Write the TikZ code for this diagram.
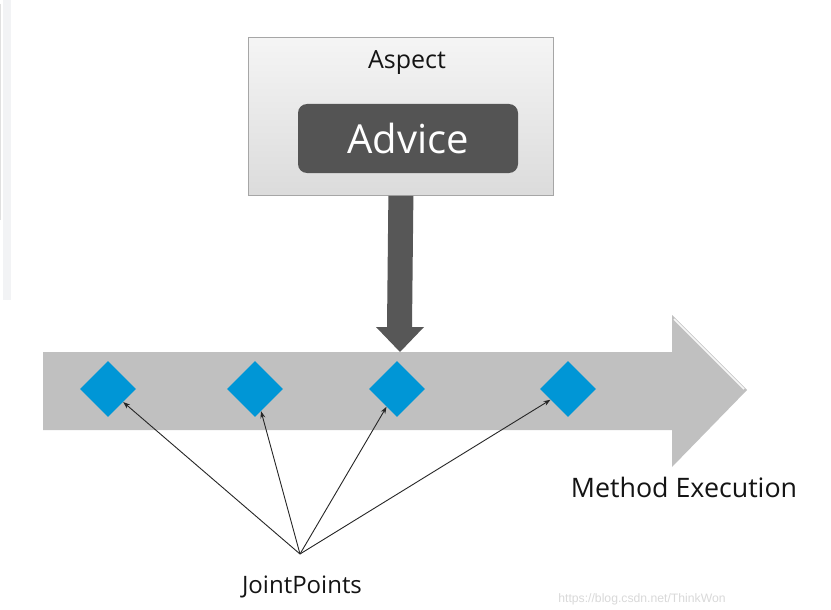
\documentclass[tikz,border=0pt]{standalone}
\usepackage{fontspec}
\setmainfont{Open Sans}
\newfontfamily\wmfont{Liberation Sans}
\usetikzlibrary{shapes.geometric,arrows.meta}
\definecolor{jpblue}{HTML}{0096D6}
\definecolor{barcol}{HTML}{C0C0C0}
\definecolor{darkcol}{HTML}{575757}
\definecolor{advcol}{HTML}{545454}
\definecolor{boxedge}{HTML}{A6A6A6}
\definecolor{stripcol}{HTML}{F2F3F5}
\definecolor{wmcol}{HTML}{D9D9D9}
\begin{document}
\begin{tikzpicture}[x=1pt,y=-1pt,
  jpoint/.style={diamond,fill=jpblue,minimum width=56,minimum height=56,inner sep=0pt,aspect=1},
  pointer/.style={draw=black!85,line width=0.9pt,-{Stealth[length=7pt,width=5pt]}},
  lbl/.style={text=black!92,inner sep=0pt,anchor=base}]
\useasboundingbox (0,0) rectangle (831,610);
\fill[white] (0,0) rectangle (831,610);
% screenshot side strip
\fill[stripcol] (3,0) rectangle (11,300);
\draw[black!12,line width=0.6pt] (0.6,4) -- (0.6,220);
% Aspect box
\node[draw=boxedge,line width=0.8pt,top color=white!96!black,bottom color=white!86!black,
      minimum width=305,minimum height=158,anchor=north west,inner sep=0pt] (aspect) at (248,37) {};
\node[lbl] (asptext) at (407,69) {\fontsize{25}{30}\selectfont Aspect};
\node[fill=advcol,rounded corners=9pt,minimum width=220,minimum height=69,inner sep=0pt,
      text=white,font=\fontsize{40}{46}\selectfont] (advice) at (408,138.5) {Advice};
% down arrow
\fill[darkcol] (aspect.south) ++(-12.5,0) -- ++(25,0) -- (412,327) -- (424,327) -- (400,352)
   -- (376,327) -- (387,327) -- cycle;
% big method execution arrow
\fill[barcol] (43,352) -- (672,352) -- (672,315) -- (747,390) -- (672,467) -- (672,430) -- (43,430) -- cycle;
\draw[white!88!barcol,line width=1.6pt] (674,319) -- (744,389);
% join points
\node[jpoint] (p1) at (108,389) {};
\node[jpoint] (p2) at (255,389) {};
\node[jpoint] (p3) at (397,389) {};
\node[jpoint] (p4) at (568,389) {};
% labels
\node[lbl] (method) at (684,497) {\fontsize{26.8}{32}\selectfont Method Execution};
\node[lbl] (jptext) at (302,593) {\fontsize{24}{29}\selectfont JointPoints};
\node[anchor=base,inner sep=0pt,text=wmcol] (wm) at (642,602) {\wmfont\fontsize{12.2}{14}\selectfont https://blog.csdn.net/ThinkWon};
% pointers
\coordinate (src) at (300,554);
\draw[pointer] (src) -- (p1);
\draw[pointer] (src) -- (p2);
\draw[pointer] (src) -- (p3);
\draw[pointer] (src) -- (p4);
\end{tikzpicture}
\end{document}
